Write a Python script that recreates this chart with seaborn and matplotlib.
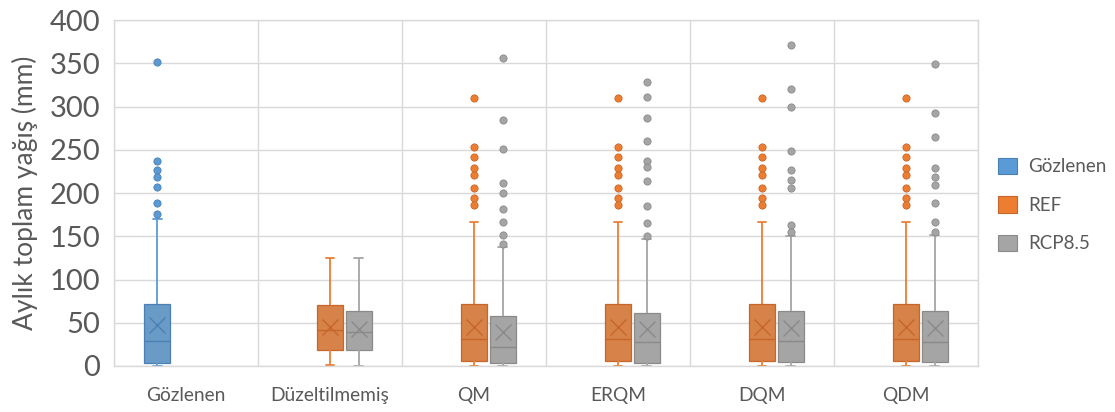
import numpy as np
import pandas as pd
import matplotlib
matplotlib.use("Agg")
import matplotlib.pyplot as plt
from matplotlib.patches import Patch
import seaborn as sns

# ---------------- data ----------------
categories = ["Gözlenen", "Düzeltilmemiş", "QM", "ERQM", "DQM", "QDM"]
series = ["Gözlenen", "REF", "RCP8.5"]

# Gözlenen (observed)
obs_cats = ["Gözlenen"]
obs_low = [0]
obs_q1 = [4]
obs_med = [29]
obs_q3 = [72]
obs_high = [170]
obs_mean = [47.5]
obs_out = [[352, 237, 227, 219, 207, 189, 176]]

# REF
ref_cats = ["Düzeltilmemiş", "QM", "ERQM", "DQM", "QDM"]
ref_low = [1, 0, 0, 0, 0]
ref_q1 = [19, 5.5, 5.5, 5.5, 5.5]
ref_med = [42, 31.5, 31.5, 31.5, 31.5]
ref_q3 = [70, 71.5, 71.5, 71.5, 71.5]
ref_high = [125, 166, 166, 166, 166]
ref_mean = [45, 45.5, 45.5, 45.5, 45]
ref_out = [
    [],
    [310, 253, 242, 229, 221, 206, 194, 186],
    [310, 253, 242, 229, 221, 206, 194, 186],
    [310, 253, 242, 229, 221, 206, 194, 186],
    [310, 253, 242, 229, 221, 206, 194, 186],
]

# RCP8.5
rcp_cats = ["Düzeltilmemiş", "QM", "ERQM", "DQM", "QDM"]
rcp_low = [0, 0, 0, 0, 0]
rcp_q1 = [19, 3, 3, 5, 5]
rcp_med = [39, 22, 28, 29, 28]
rcp_q3 = [64, 58, 61, 64, 64]
rcp_high = [125, 137, 147, 150, 151]
rcp_mean = [42.5, 39.5, 43, 44, 44]
rcp_out = [
    [],
    [356, 284, 251, 212, 200, 181, 166, 152, 141.5],
    [328, 311, 287, 260, 237, 230, 214, 185, 165, 150.5],
    [371, 320, 300, 249, 227, 215, 206, 163, 154.5],
    [349, 293, 265, 229, 218, 209, 188, 167, 155],
]

# ---------------- build long-form tables ----------------
rows = []
mean_rows = []


def add_series(name, cats, low, q1, med, q3, high, means, outs):
    for c, lo, a, m, b, hi, mu, o in zip(cats, low, q1, med, q3, high, means, outs):
        vals = [lo] + [a] * 20 + [m] * 20 + [b] * 20 + [hi] + list(o)
        rows.extend((c, name, v) for v in vals)
        mean_rows.append((c, name, mu))


add_series("Gözlenen", obs_cats, obs_low, obs_q1, obs_med, obs_q3, obs_high, obs_mean, obs_out)
add_series("REF", ref_cats, ref_low, ref_q1, ref_med, ref_q3, ref_high, ref_mean, ref_out)
add_series("RCP8.5", rcp_cats, rcp_low, rcp_q1, rcp_med, rcp_q3, rcp_high, rcp_mean, rcp_out)

df = pd.DataFrame(rows, columns=["cat", "series", "val"])
mdf = pd.DataFrame(mean_rows, columns=["cat", "series", "mean"])

# ---------------- style ----------------
fill = {"Gözlenen": "#5B9BD5", "REF": "#ED7D31", "RCP8.5": "#A5A5A5"}
edge = {"Gözlenen": "#4A80B4", "REF": "#C8652A", "RCP8.5": "#8A8A8A"}
grid_c = "#D9D9D9"
text_c = "#595959"

sns.set_style("white")
plt.rcParams["font.family"] = ["Lato", "DejaVu Sans"]

fig = plt.figure(figsize=(11.15, 4.12), dpi=100)
ax = fig.add_axes([114 / 1115, 1 - 366 / 412, 864 / 1115, 346 / 412])

for s in series:
    sub = df[df["series"] == s]
    sns.boxplot(
        data=sub, x="cat", y="val", hue="series",
        order=categories, hue_order=series, palette=fill,
        dodge=True, width=0.6, gap=0.1,
        linecolor=edge[s], linewidth=0.9, fliersize=5.2,
        flierprops=dict(marker="o", markerfacecolor=fill[s],
                        markeredgecolor=edge[s], markeredgewidth=0.6),
        whiskerprops=dict(color=fill[s], linewidth=1.3),
        capprops=dict(color=fill[s], linewidth=1.3),
        medianprops=dict(color=edge[s], linewidth=1.0),
        legend=False, ax=ax,
    )

# shrink whisker caps (style only)
for cont in ax.containers:
    caps = getattr(cont, "caps", None)
    if caps is None:
        continue
    for cap in caps:
        xd = np.asarray(cap.get_xdata(), dtype=float)
        c = xd.mean()
        cap.set_xdata([c - 0.03, c + 0.03])

# mean markers
sns.pointplot(
    data=mdf, x="cat", y="mean", hue="series",
    order=categories, hue_order=series, palette=edge,
    dodge=0.4, linestyle="none", marker="x",
    markersize=12, markeredgewidth=1.0,
    errorbar=None, legend=False, ax=ax,
)

ax.set_xlim(-0.5, len(categories) - 0.5)
ax.set_ylim(0, 400)
ax.set_yticks(np.arange(0, 401, 50))
ax.set_xticks(np.arange(len(categories)))
ax.set_xticklabels(categories)
ax.set_xticks(np.arange(-0.5, len(categories), 1), minor=True)
ax.set_axisbelow(True)
ax.grid(axis="y", which="major", color=grid_c, linewidth=1)
ax.grid(axis="x", which="minor", color=grid_c, linewidth=1)
ax.grid(axis="x", which="major", visible=False)
for sp in ax.spines.values():
    sp.set_visible(True)
    sp.set_color(grid_c)
    sp.set_linewidth(1)

ax.tick_params(axis="both", which="both", length=0, colors=text_c)
ax.tick_params(axis="y", labelsize=21, pad=10)
ax.tick_params(axis="x", labelsize=13.8, pad=15)
ax.set_xlabel("")
ax.set_ylabel("Aylık toplam yağış (mm)", fontsize=19, color=text_c, labelpad=8)

handles = [Patch(facecolor=fill[s], edgecolor=edge[s], linewidth=0.8) for s in series]
leg = fig.legend(
    handles, series, loc="center left", bbox_to_anchor=(998 / 1115, 1 - 205 / 412),
    frameon=False, fontsize=13.5, handlelength=1.0, handleheight=1.0,
    handletextpad=0.6, labelspacing=1.1, borderaxespad=0, borderpad=0,
)
for t in leg.get_texts():
    t.set_color(text_c)

fig.savefig("out.png", dpi=100)
